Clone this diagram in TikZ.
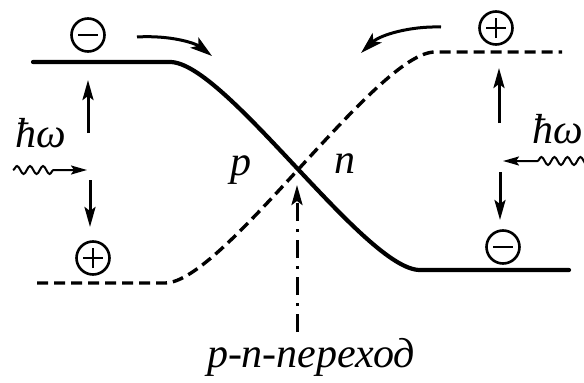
\documentclass[tikz,border=0pt]{standalone}
\usepackage{fontspec}
\setmainfont{Liberation Serif}
\usetikzlibrary{
  arrows.meta,
  decorations.pathmorphing
}
\tikzset{
  band edge/.style={
    line width=4.2pt,
    line cap=round
  },
  band dashed/.style={
    line width=3.4pt,
    dash pattern=on 11pt off 6pt
  },
  carrier/.style={
    circle,
    draw,
    line width=2.6pt,
    minimum size=33pt,
    inner sep=0pt
  },
  electron/.style={
    carrier,
    path picture={
      \draw[line width=2.4pt]
        ([xshift=-10pt]path picture bounding box.center)
        -- ([xshift=10pt]path picture bounding box.center);
    }
  },
  hole/.style={
    carrier,
    path picture={
      \draw[line width=2.4pt]
        ([xshift=-10pt]path picture bounding box.center)
        -- ([xshift=10pt]path picture bounding box.center)
        ([yshift=-10pt]path picture bounding box.center)
        -- ([yshift=10pt]path picture bounding box.center);
    }
  },
  jump/.style={
    line width=3pt,
    -{Stealth[length=20pt,width=11pt,inset=4pt]}
  },
  drift/.style={
    line width=3pt,
    -{Stealth[length=22pt,width=13pt,inset=5pt]}
  },
  photon/.style={
    line width=2pt,
    -{Stealth[length=16pt,width=9pt,inset=3pt]},
    decorate,
    decoration={
      snake,
      amplitude=4pt,
      segment length=13pt,
      post length=32pt
    }
  },
  junction/.style={
    line width=3pt,
    dash pattern=on 18pt off 8pt on 3pt off 8pt,
    -{Stealth[length=20pt,width=11pt,inset=4pt]}
  },
  lettering/.style={
    font=\fontsize{42}{50}\selectfont\itshape,
    inner sep=0pt
  }
}

\begin{document}
\begin{tikzpicture}[x=1pt,y=-1pt]
    \useasboundingbox (0,0) rectangle (584,383);
    \clip (0,0) rectangle (584,383);

    % ---------- зоны ----------
    \draw[band edge]
      (33,62) -- (170,62)
      .. controls (225,62) and (365,270) ..
      (420,270) -- (569,270);
    \draw[band dashed]
      (37,283) -- (165,283)
      .. controls (223,283) and (377,52) ..
      (435,52) -- (562,52);

    % ---------- носители ----------
    \node[electron] (el-p) at (88,35) {};
    \node[hole] (hl-p) at (93,258) {};
    \node[hole] (hl-n) at (496,28) {};
    \node[electron] (el-n) at (503,247) {};

    % дрейф через переход
    \coordinate (dr-p-a) at (137,37);
    \coordinate (dr-p-b) at (212,56);
    \coordinate (dr-n-a) at (441,27);
    \coordinate (dr-n-b) at (361,53);
    \draw[drift] (dr-p-a)
      .. controls (170,35) and (195,43) .. (dr-p-b);
    \draw[drift] (dr-n-a)
      .. controls (410,26) and (380,35) .. (dr-n-b);

    % ---------- p-область ----------
    \node[lettering, anchor=base west] (hw-p) at (15,147) {ħω};
    \coordinate (ph-p-a) at (13,170);
    \coordinate (ph-p-b) at (87,170);
    \draw[photon] (ph-p-a) -- (ph-p-b);

    \coordinate (up-p-a) at (88,133);
    \coordinate (up-p-b) at (88,80);
    \coordinate (dn-p-a) at (90,180);
    \coordinate (dn-p-b) at (90,227);
    \draw[jump] (up-p-a) -- (up-p-b);
    \draw[jump] (dn-p-a) -- (dn-p-b);

    % ---------- n-область ----------
    \node[lettering, anchor=base west] (hw-n) at (532,143) {ħω};
    \coordinate (ph-n-a) at (604,161);
    \coordinate (ph-n-b) at (503,161);
    \draw[photon] (ph-n-a) -- (ph-n-b);

    \coordinate (up-n-a) at (499,123);
    \coordinate (up-n-b) at (499,68);
    \coordinate (dn-n-a) at (500,172);
    \coordinate (dn-n-b) at (500,220);
    \draw[jump] (up-n-a) -- (up-n-b);
    \draw[jump] (dn-n-a) -- (dn-n-b);

    % ---------- переход ----------
    \node[lettering, anchor=base] (p-side) at (241,175) {p};
    \node[lettering, anchor=base] (n-side) at (345,173) {n};

    \coordinate (jn-foot) at (297,332);
    \coordinate (jn-head) at (297,185);
    \draw[junction] (jn-foot) -- (jn-head);

    \node[lettering, anchor=base] (jn-name) at (311,367)
      {p-n-переход};

  \end{tikzpicture}
\end{document}
